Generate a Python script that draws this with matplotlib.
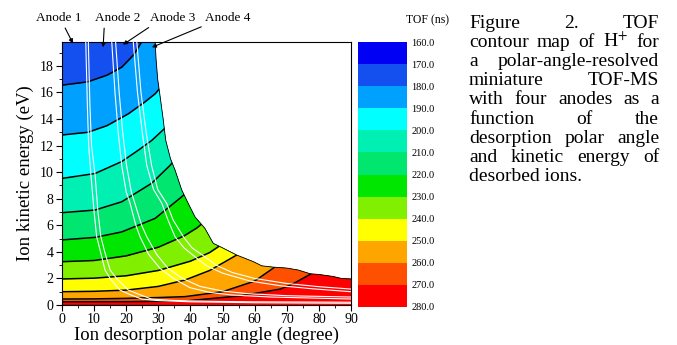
import numpy as np
import matplotlib.pyplot as plt
from matplotlib.colors import ListedColormap, BoundaryNorm
from matplotlib.cm import ScalarMappable
from matplotlib.patches import Polygon
from matplotlib.ticker import MultipleLocator

plt.rcParams['font.family'] = ['Liberation Serif', 'DejaVu Serif']
plt.rcParams['mathtext.fontset'] = 'stix'

W, H = 677, 345

# TOF levels (ns) and the colour of each band
tof_levels = [160, 170, 180, 190, 200, 210, 220, 230, 240, 250, 260, 270, 280]
band_colors = ['#0000f5', '#1450f0', '#00a0ff', '#00ffff', '#00f0b4', '#00e66e',
               '#00e600', '#80f000', '#ffff00', '#ffa500', '#ff5000', '#ff0000']
over_color = '#c00000'

# upper edge of the simulated region (deg, eV)
edge_th = [29.0, 29.3, 29.8, 30.5, 31.5, 32.3, 33.8, 35.2, 37.3, 39.3, 41.4, 44.5,
           47.1, 50.0, 54.4, 59.6, 62.2, 65.8, 70.0, 73.6, 77.3, 80.0, 84.4, 87.0, 90.0]
edge_e = [19.8, 18.5, 17.0, 15.8, 14.0, 12.4, 11.0, 10.16, 8.65, 7.65, 6.64, 5.77,
          4.64, 4.3, 3.76, 3.26, 2.95, 2.85, 2.78, 2.63, 2.35, 2.3, 2.15, 2.0, 1.96]

# contour lines, named by the TOF on the line (deg, eV)
th_180 = [0, 8, 14, 18.6, 22.2, 24.3, 26]
e_180 = [16.55, 16.8, 17.3, 17.9, 18.8, 19.6, 20.4]
th_190 = [0, 8, 14, 20.7, 25.9, 29, 31.5]
e_190 = [12.8, 13.0, 13.5, 14.4, 15.3, 15.9, 16.6]
th_200 = [0, 10.3, 18.6, 23.8, 28, 32, 34]
e_200 = [9.53, 9.9, 10.8, 11.66, 12.4, 13.3, 13.8]
th_210 = [0, 10.3, 18.6, 27.9, 33.6, 36.5]
e_210 = [6.95, 7.15, 7.77, 9.16, 10.5, 11.3]
th_220 = [0, 10.3, 18.6, 29, 37.3, 40.5]
e_220 = [4.9, 5.09, 5.5, 6.52, 8.15, 8.9]
th_230 = [0, 10, 20, 30, 38, 42, 45]
e_230 = [3.26, 3.35, 3.7, 4.35, 5.2, 5.8, 6.4]
th_240 = [0, 10, 20, 30, 40, 46, 50]
e_240 = [1.96, 2.02, 2.2, 2.6, 3.3, 3.95, 4.6]
th_250 = [0, 10, 20, 30, 38.3, 46, 54.4, 57]
e_250 = [1.0, 1.03, 1.12, 1.4, 1.88, 2.6, 3.76, 4.2]
th_260 = [0, 10, 20, 30, 38.3, 50, 60, 65.7, 68]
e_260 = [0.45, 0.46, 0.5, 0.56, 0.63, 1.0, 1.8, 2.76, 3.2]
th_270 = [0, 20, 38.3, 56, 68, 72, 77.3, 79]
e_270 = [0.24, 0.25, 0.3, 0.7, 1.2, 1.6, 2.31, 2.7]
th_280 = [0, 20, 35, 50]
e_280 = [0.1, 0.08, 0.04, 0.0]

contour_lines = [(180, th_180, e_180), (190, th_190, e_190), (200, th_200, e_200),
                 (210, th_210, e_210), (220, th_220, e_220), (230, th_230, e_230),
                 (240, th_240, e_240), (250, th_250, e_250), (260, th_260, e_260),
                 (270, th_270, e_270), (280, th_280, e_280)]

# gaps between the anodes (white double lines)
gap1a_th = [7.4, 7.9, 8.3, 9.0, 10.0, 10.8, 12.0, 13.4, 15.0, 18.0, 21.0, 24.8, 30, 40, 60, 90]
gap1a_e = [19.8, 15, 12, 9.8, 7, 5.14, 4.0, 2.63, 2.0, 1.13, 0.8, 0.45, 0.33, 0.24, 0.17, 0.13]
gap1b_th = [8.2, 8.7, 9.2, 10.3, 11.2, 12.1, 13.3, 15.0, 17.0, 20.6, 24.0, 27.9, 34, 45, 60, 90]
gap1b_e = [19.8, 15, 12, 9.8, 7, 5.14, 4.0, 2.63, 2.0, 1.13, 0.8, 0.45, 0.35, 0.28, 0.24, 0.21]
gap2a_th = [15.5, 16.5, 17.5, 18.6, 20.0, 21.2, 23.0, 24.3, 27.0, 30.5, 34.7, 39.9, 46, 53, 65, 90]
gap2a_e = [19.8, 16, 13, 10.5, 8.5, 7.65, 6, 5.14, 3.8, 2.76, 2.0, 1.3, 0.95, 0.75, 0.6, 0.45]
gap2b_th = [16.7, 17.8, 18.9, 20.1, 21.6, 22.7, 24.8, 26.4, 29.5, 33, 37.5, 43, 50, 58, 70, 90]
gap2b_e = [19.8, 16, 13, 10.5, 8.5, 7.65, 6, 5.14, 3.8, 2.76, 2.0, 1.4, 1.05, 0.85, 0.7, 0.6]
gap3a_th = [22.2, 23.5, 25, 26.4, 28.5, 31.1, 33, 35.2, 38, 41.4, 45, 50, 58.6, 68, 78, 90]
gap3a_e = [19.8, 16, 13, 10.5, 8.7, 7.65, 6.4, 5.14, 4.3, 3.63, 2.95, 2.4, 1.8, 1.45, 1.22, 1.0]
gap3b_th = [23.3, 24.6, 26.2, 27.9, 29.8, 32.6, 34.6, 37.8, 40.5, 44.5, 48, 53, 60, 70, 80, 90]
gap3b_e = [19.8, 16, 13, 10.5, 8.7, 7.65, 6.4, 5.14, 4.3, 3.63, 3.0, 2.45, 2.0, 1.62, 1.38, 1.2]
gaps = [(gap1a_th, gap1a_e), (gap1b_th, gap1b_e), (gap2a_th, gap2a_e),
        (gap2b_th, gap2b_e), (gap3a_th, gap3a_e), (gap3b_th, gap3b_e)]

anode_labels = ['Anode 1', 'Anode 2', 'Anode 3', 'Anode 4']

caption = ['Figure 2. TOF', 'contour map of H$^{+}$ for', 'a polar-angle-resolved',
           'miniature TOF-MS', 'with four anodes as a', 'function of the',
           'desorption polar angle', 'and kinetic energy of', 'desorbed ions.']


fig = plt.figure(figsize=(W / 100, H / 100), dpi=100)
ax = fig.add_axes([62 / W, 1 - 305 / H, (351 - 62) / W, (305 - 42) / H])
ax.set_xlim(0, 90)
ax.set_ylim(0, 19.8)

# simulated region, coloured as the 170-180 band, the others painted on top
dom = Polygon(np.column_stack([np.r_[0, 0, edge_th, 90], np.r_[0, edge_e[0], edge_e, 0]]),
              closed=True, facecolor=band_colors[1], edgecolor='none', zorder=1)
ax.add_patch(dom)
for lev, th, e in contour_lines:
    i = tof_levels.index(lev)
    col = band_colors[i] if i < len(band_colors) else over_color
    x, y = np.asarray(th, float), np.asarray(e, float)
    if y[-1] > np.interp(x[-1], edge_th, edge_e):
        # line leaves the region through its edge: everything right of it is below it
        x = np.r_[x, x[-1], 90]
        y = np.r_[y, edge_e[0], edge_e[0]]
    pc = ax.fill_between(x, 0, y, color=col, lw=0, zorder=1)
    pc.set_clip_path(dom)
for lev, th, e in contour_lines[:-1]:
    ln, = ax.plot(th, e, color='k', lw=1.1, zorder=2)
    ln.set_clip_path(dom)
ax.plot(edge_th, edge_e, color='k', lw=0.6, zorder=2)

for th, e in gaps:
    ax.plot(th, e, color='white', lw=0.8, zorder=3)

ax.xaxis.set_major_locator(MultipleLocator(10))
ax.xaxis.set_minor_locator(MultipleLocator(5))
ax.yaxis.set_major_locator(MultipleLocator(2))
ax.yaxis.set_minor_locator(MultipleLocator(1))
ax.tick_params(which='major', direction='out', length=4, width=0.8, labelsize=10, pad=2)
ax.tick_params(which='minor', direction='out', length=2, width=0.6)
for s in ax.spines.values():
    s.set_linewidth(0.8)
ax.set_xlabel('Ion desorption polar angle (degree)', fontsize=13.5, labelpad=0)
ax.set_ylabel('Ion kinetic energy (eV)', fontsize=13.5, labelpad=4)

# anode labels with arrows
label_x = [59, 118, 173, 228]
tips = [(3.4, 19.7), (12.8, 19.4), (19.0, 19.6), (28.0, 19.4)]
rel = [0.59, 0.2, 0.08, 0.06]
for lbl, lx, tip, r in zip(anode_labels, label_x, tips, rel):
    ax.annotate(lbl, xy=tip, xycoords='data', xytext=(lx / W, 1 - 18 / H),
                textcoords='figure fraction', ha='center', va='center', fontsize=9.5,
                annotation_clip=False,
                arrowprops=dict(arrowstyle='-|>', color='k', lw=0.8, mutation_scale=6,
                                shrinkA=1, shrinkB=0, relpos=(r, 0)))

# colour bar
cmap = ListedColormap(band_colors)
norm = BoundaryNorm(tof_levels, cmap.N)
cax = fig.add_axes([358 / W, 1 - 307 / H, 49 / W, 265 / H])
cb = fig.colorbar(ScalarMappable(norm=norm, cmap=cmap), cax=cax, ticks=tof_levels)
cax.invert_yaxis()
cb.outline.set_visible(False)
cb.set_ticklabels([f'{v:.1f}' for v in tof_levels])
cax.tick_params(length=0, labelsize=7.5, pad=3)
fig.text(427 / W, 1 - 20 / H, 'TOF (ns)', fontsize=8.5, ha='center', va='center')

# justified caption
renderer = fig.canvas.get_renderer()
cap_x0, cap_x1 = 469, 659
for k, line in enumerate(caption):
    yb = 1 - (28 + k * 19.1) / H
    words = line.split(' ')
    if k == len(caption) - 1:
        fig.text(cap_x0 / W, yb, line, fontsize=14, va='baseline')
        continue
    texts = [fig.text(0, yb, w, fontsize=14, va='baseline') for w in words]
    widths = [t.get_window_extent(renderer).width for t in texts]
    gap = (cap_x1 - cap_x0 - sum(widths)) / (len(words) - 1)
    x = cap_x0
    for t, w in zip(texts, widths):
        t.set_x(x / W)
        x += w + gap

fig.savefig('out.png', dpi=100)
